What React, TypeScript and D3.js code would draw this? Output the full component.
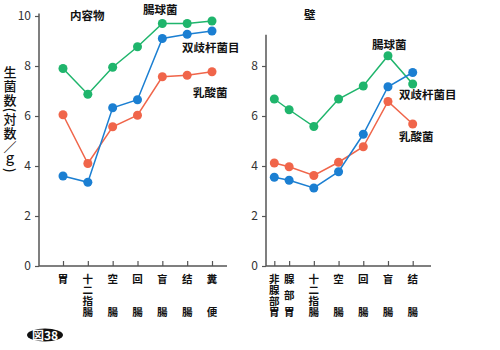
import React, { useRef, useEffect } from "react";
import * as d3 from "d3";

// categories, drawn as vertical text
const contentCats = ["胃", "十二指腸", "空腸", "回腸", "盲腸", "结腸", "糞便"];
const wallCats = ["非腺部胃", "腺部胃", "十二指腸", "空腸", "回腸", "盲腸", "结腸"];
// x position of each wall category (first two sit closer together)
const wallPos = [0, 0.6, 1.6, 2.6, 3.6, 4.6, 5.6];

const contentEnterococcus = [7.9, 6.87, 7.95, 8.77, 9.7, 9.7, 9.8];
const contentBifido = [3.6, 3.35, 6.33, 6.65, 9.1, 9.27, 9.4];
const contentLactic = [6.05, 4.1, 5.57, 6.03, 7.57, 7.63, 7.77];

const wallEnterococcus = [6.68, 6.25, 5.58, 6.68, 7.2, 8.41, 7.28];
const wallBifido = [3.55, 3.43, 3.12, 3.77, 5.27, 7.17, 7.74];
const wallLactic = [4.12, 3.97, 3.62, 4.15, 4.77, 6.58, 5.68];

const leftTicks = [0, 2, 4, 6, 8, 10];
const rightTicks = [0, 2, 4, 6, 8];

const yTitle = "生菌数(対数／ｇ)";

const GREEN = "#1fb56c";
const BLUE = "#1b7fd2";
const RED = "#f0654a";
const FONT = "'Noto Sans CJK JP', 'Noto Sans', sans-serif";

export default function App() {
  const svgRef = useRef<SVGSVGElement>(null);

  useEffect(() => {
    const svg = d3.select(svgRef.current);
    svg.selectAll("*").remove();

    const y = d3.scaleLinear().domain([0, 10]).range([266, 16]);

    function panel(opts: any) {
      const g = svg.append("g");
      const x = d3.scaleLinear().domain(opts.xDomain).range(opts.xRange);

      // y axis
      const yAxis = d3.axisLeft(y).tickValues(opts.ticks).tickSize(4).tickPadding(4);
      const ya = g.append("g").attr("transform", `translate(${opts.axisX},0)`).call(yAxis);
      ya.select(".domain").remove();
      ya.selectAll("line").attr("stroke", "#555").attr("stroke-width", 1.2);
      ya.selectAll("text").attr("font-family", FONT).attr("font-size", 12).attr("fill", "#333");
      g.append("line")
        .attr("x1", opts.axisX).attr("x2", opts.axisX)
        .attr("y1", y(opts.yTop)).attr("y2", y(0))
        .attr("stroke", "#555").attr("stroke-width", 1.5);

      // x axis
      g.append("line")
        .attr("x1", opts.axisX).attr("x2", opts.axisEnd)
        .attr("y1", y(0)).attr("y2", y(0))
        .attr("stroke", "#555").attr("stroke-width", 1.5);
      const xAxis = d3.axisBottom(x).tickValues(opts.pos).tickSizeInner(-5).tickSizeOuter(0).tickFormat(() => "");
      const xa = g.append("g").attr("transform", `translate(0,${y(0)})`).call(xAxis);
      xa.select(".domain").remove();
      xa.selectAll("line").attr("stroke", "#555").attr("stroke-width", 1.2);

      // category labels as vertical text, spread over the same height
      const fs = 10.5;
      opts.cats.forEach((label: string, i: number) => {
        const n = label.length;
        const ls = n > 1 ? 33 / (n - 1) - fs : 0;
        g.append("text")
          .attr("x", x(opts.pos[i]))
          .attr("y", 273.5)
          .attr("writing-mode", "vertical-rl")
          .attr("text-anchor", "start")
          .attr("letter-spacing", ls)
          .attr("font-family", FONT)
          .attr("font-size", fs)
          .attr("font-weight", 600)
          .attr("fill", "#111")
          .text(label);
      });

      // series
      const line = d3.line<number>().x((d, i) => x(opts.pos[i])).y((d) => y(d));
      opts.series.forEach((s: any) => {
        g.append("path").datum(s.values).attr("d", line)
          .attr("fill", "none").attr("stroke", s.color).attr("stroke-width", 1.5);
        g.selectAll(null).data(s.values).enter().append("circle")
          .attr("cx", (d: any, i: number) => x(opts.pos[i]))
          .attr("cy", (d: any) => y(d))
          .attr("r", 4.5)
          .attr("fill", s.color);
      });

      // annotations
      opts.labels.forEach((l: any) => {
        g.append("text").attr("x", l.x).attr("y", l.y)
          .attr("font-family", FONT).attr("font-size", 11.5)
          .attr("font-weight", 600)
          .attr("fill", "#111").text(l.text);
      });
    }

    panel({
      xDomain: [0, 6], xRange: [63, 212], pos: d3.range(7),
      axisX: 39, axisEnd: 227, yTop: 10.1, ticks: leftTicks, cats: contentCats,
      series: [
        { values: contentEnterococcus, color: GREEN },
        { values: contentLactic, color: RED },
        { values: contentBifido, color: BLUE },
      ],
      labels: [
        { text: "内容物", x: 70, y: 20 },
        { text: "腸球菌", x: 143, y: 14 },
        { text: "双歧杆菌目", x: 182, y: 52 },
        { text: "乳酸菌", x: 193, y: 97 },
      ],
    });

    panel({
      xDomain: [0, 5.6], xRange: [274.3, 412.7], pos: wallPos,
      axisX: 266, axisEnd: 431, yTop: 9.25, ticks: rightTicks, cats: wallCats,
      series: [
        { values: wallEnterococcus, color: GREEN },
        { values: wallLactic, color: RED },
        { values: wallBifido, color: BLUE },
      ],
      labels: [
        { text: "壁", x: 304, y: 19 },
        { text: "腸球菌", x: 372, y: 49 },
        { text: "双歧杆菌目", x: 399, y: 99 },
        { text: "乳酸菌", x: 399, y: 141 },
      ],
    });

    // y axis title, vertical
    svg.append("text")
      .attr("x", 10).attr("y", 66)
      .attr("writing-mode", "vertical-rl")
      .attr("text-anchor", "start")
      .attr("letter-spacing", 0.8)
      .attr("font-family", FONT).attr("font-size", 13).attr("font-weight", 500)
      .attr("fill", "#111")
      .text(yTitle);

    // figure badge
    svg.append("ellipse").attr("cx", 45).attr("cy", 335).attr("rx", 18).attr("ry", 6.5).attr("fill", "#111");
    svg.append("text").attr("x", 45).attr("y", 339.5).attr("text-anchor", "middle")
      .attr("font-family", FONT).attr("font-size", 12).attr("font-weight", 700)
      .attr("fill", "#fff").text("図38");
  }, []);

  return (
    <svg ref={svgRef} width={500} height={350}
      style={{ position: "absolute", left: 0, top: 0, background: "#fff" }} />
  );
}
